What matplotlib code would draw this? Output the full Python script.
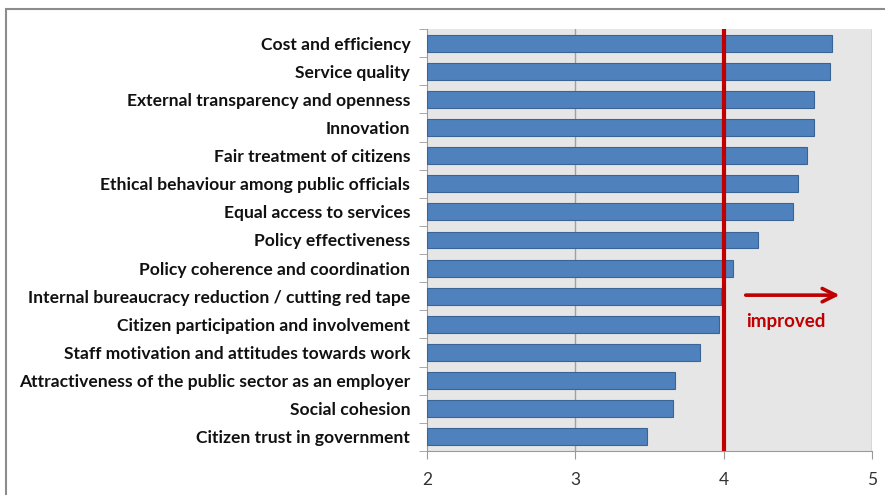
import numpy as np
import matplotlib
matplotlib.use('Agg')
import matplotlib.pyplot as plt
from matplotlib.patches import Rectangle

# datos (de arriba hacia abajo)
categorias = [
    'Cost and efficiency',
    'Service quality',
    'External transparency and openness',
    'Innovation',
    'Fair treatment of citizens',
    'Ethical behaviour among public officials',
    'Equal access to services',
    'Policy effectiveness',
    'Policy coherence and coordination',
    'Internal bureaucracy reduction / cutting red tape',
    'Citizen participation and involvement',
    'Staff motivation and attitudes towards work',
    'Attractiveness of the public sector as an employer',
    'Social cohesion',
    'Citizen trust in government',
]
valores = [4.73, 4.72, 4.61, 4.61, 4.56, 4.50, 4.47, 4.23, 4.06, 3.98, 3.97, 3.84, 3.67, 3.66, 3.48]
xticks = [2, 3, 4, 5]
umbral = 4

plt.rcParams['font.family'] = ['Lato', 'DejaVu Sans']

fig = plt.figure(figsize=(8.85, 4.95), dpi=100)
ax = fig.add_axes([427 / 885, 1 - 451 / 495, (872 - 427) / 885, (451 - 29) / 495])

n = len(categorias)
y = np.arange(n)[::-1]
ax.set_facecolor('#e6e6e6')
ax.barh(y, np.array(valores) - 2, left=2, height=0.6, color='#4f81bd',
        edgecolor='#3a6496', linewidth=0.8, zorder=3)

ax.set_xlim(2, 5)
ax.set_ylim(-0.5, n - 0.5)
ax.set_xticks(xticks)
ax.set_xticklabels([str(t) for t in xticks], fontsize=12.5, color='#333333')
ax.set_yticks(y)
ax.set_yticklabels(categorias, fontsize=12.6, fontweight='bold', color='#111111')
ax.set_yticks(np.arange(-0.5, n, 1), minor=True)
ax.tick_params(axis='y', which='major', length=0, pad=12)
ax.tick_params(axis='y', which='minor', length=6, color='#9a9a9a')
ax.tick_params(axis='x', length=6, color='#9a9a9a', pad=9)

for t in xticks[1:]:
    ax.axvline(t, color='#a0a0a0', linewidth=1, zorder=1)
ax.axvline(umbral, color='#c00000', linewidth=3, zorder=4)

for s in ['top', 'right']:
    ax.spines[s].set_visible(False)
ax.spines['left'].set_color('#9a9a9a')
ax.spines['bottom'].set_color('#9a9a9a')

# flecha y texto
ax.annotate('', xy=(4.80, 5.04), xytext=(4.13, 5.04),
            arrowprops=dict(arrowstyle='->', color='#c00000', lw=2.6,
                            mutation_scale=24), zorder=5)
ax.text(4.42, 4.1, 'improved', color='#c00000', fontsize=13.5,
        fontweight='bold', ha='center', va='center', zorder=5)

# borde exterior
fig.patches.append(Rectangle((6 / 885, -0.1), 1, 1 - 9 / 495 + 0.1,
                             transform=fig.transFigure, fill=False,
                             edgecolor='#8c8c8c', linewidth=1.5))

fig.savefig('out.png', dpi=100)
